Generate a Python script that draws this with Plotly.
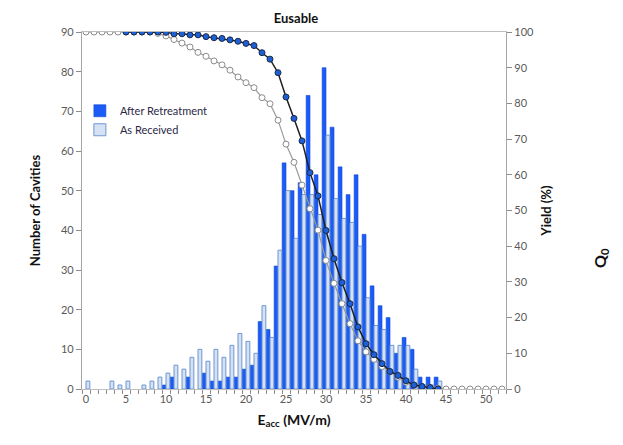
import plotly.graph_objects as go

# ---- data ----
eacc_bins = list(range(53))  # MV/m, 0..52

after_retreatment = [0, 0, 0, 0, 0, 0, 0, 0, 0, 0,
                     1, 3, 0, 3, 0, 4, 2, 2, 3, 3,
                     5, 6, 17, 15, 31, 57, 50, 52, 74, 54,
                     81, 66, 56, 49, 54, 39, 26, 21, 18, 9,
                     13, 10, 3, 3, 3, 0, 0, 0, 0, 0,
                     0, 0, 0]

as_received = [2, 0, 0, 2, 1, 2, 0, 1, 2, 3,
               4, 6, 5, 8, 10, 7, 10, 8, 11, 14,
               12, 9, 21, 13, 35, 50, 38, 49, 49, 44,
               64, 48, 43, 42, 36, 23, 16, 15, 11, 11,
               11, 5, 1, 1, 2, 0, 0, 0, 0, 0,
               0, 0, 0]

yield_as_received_x = list(range(53))
yield_as_received = [100, 100, 100, 100, 100, 100, 100, 100, 100, 99.6,
                     98.9, 97.9, 96.9, 95.8, 94.3, 93.2, 91.9, 90.8, 89.3, 87.4,
                     85.8, 84.4, 81.6, 79.9, 75.3, 68.6, 63.5, 57.1, 50.5, 44.5,
                     36.0, 29.6, 23.9, 18.3, 13.5, 10.4, 8.3, 6.3, 4.8, 3.3,
                     1.9, 1.1, 0.7, 0.5, 0.2, 0, 0, 0, 0, 0,
                     0, 0, 0]

yield_after_x = list(range(5, 45))
yield_after = [100, 100, 100, 100, 100, 99.9, 99.5, 99.5, 99.2, 99.2,
               98.7, 98.4, 98.2, 97.8, 97.4, 96.8, 96.2, 94.2, 92.4, 88.6,
               81.8, 75.8, 69.5, 60.6, 54.1, 44.4, 36.5, 29.8, 23.9, 17.4,
               12.7, 9.6, 7.1, 4.9, 3.8, 2.3, 1.1, 0.7, 0.4, 0.0]

x_tick_vals = [0, 5, 10, 15, 20, 25, 30, 35, 40, 45, 50]
left_tick_vals = [0, 10, 20, 30, 40, 50, 60, 70, 80, 90]
right_tick_vals = [0, 10, 20, 30, 40, 50, 60, 70, 80, 90, 100]

FONT = "Lato, 'Open Sans', sans-serif"
TICK_COLOR = "#595959"

# the page body adds an 8px offset, so the figure is laid out in page px - 8
W, H = 615, 437
L, R, T, B = 74, 498, 24, 381

def nz(vals):
    return [v if v != 0 else None for v in vals]

fig = go.Figure()

fig.add_trace(go.Bar(
    x=eacc_bins, y=nz(after_retreatment), name="After Retreatment",
    marker=dict(color="#1a5cf5", line=dict(color="#1246d8", width=0.6)),
))
fig.add_trace(go.Bar(
    x=eacc_bins, y=nz(as_received), name="As Received",
    marker=dict(color="#d5e2f4", line=dict(color="#6f96d1", width=1)),
))

fig.add_trace(go.Scatter(
    x=yield_as_received_x, y=yield_as_received, yaxis="y2",
    mode="lines+markers", showlegend=False,
    line=dict(color="#9a9a9a", width=1.2),
    marker=dict(symbol="circle", size=6, color="#ffffff",
                line=dict(color="#8c8c8c", width=1)),
))
fig.add_trace(go.Scatter(
    x=yield_after_x, y=yield_after, yaxis="y2",
    mode="lines+markers", showlegend=False,
    line=dict(color="#1f1f1f", width=1.5),
    marker=dict(symbol="circle", size=6, color="#1f5fd6",
                line=dict(color="#1a2a4a", width=1)),
))

fig.update_layout(
    width=W, height=H,
    margin=dict(l=L, r=W - R, t=T, b=H - B, autoexpand=False),
    paper_bgcolor="white", plot_bgcolor="white",
    font=dict(family=FONT, size=11, color=TICK_COLOR),
    barmode="group", bargap=0.04, bargroupgap=0.0,
    title=dict(text="<b>Eusable</b>", x=288 / W, xanchor="center",
               y=1 - 10 / H, yanchor="middle",
               font=dict(family=FONT, size=13, color="#111111")),
    xaxis=dict(
        range=[-0.5, 52.5], tickmode="array", tickvals=x_tick_vals,
        ticks="", showline=True, linecolor="#bfbfbf", linewidth=1,
        mirror=True, showgrid=False, zeroline=False,
        tickfont=dict(size=11, color=TICK_COLOR),
        minor=dict(ticks="outside", tick0=0.5, dtick=1, ticklen=4,
                   tickcolor="#8c8c8c", showgrid=False),
        title=dict(text="<b>E<sub>acc</sub> (MV/m)</b>", standoff=10,
                   font=dict(family=FONT, size=14, color="#111111")),
    ),
    yaxis=dict(
        range=[0, 90], tickmode="array", tickvals=left_tick_vals,
        ticks="outside", ticklen=5, tickcolor="#8c8c8c",
        showline=True, linecolor="#a6a6a6", linewidth=1.2,
        showgrid=False, zeroline=False,
        tickfont=dict(size=11, color=TICK_COLOR),
        title=dict(text="<b>Number of Cavities</b>", standoff=17,
                   font=dict(family=FONT, size=13, color="#111111")),
    ),
    yaxis2=dict(
        range=[0, 100], overlaying="y", side="right",
        tickmode="array", tickvals=right_tick_vals,
        ticks="outside", ticklen=5, tickcolor="#8c8c8c",
        showline=True, linecolor="#a6a6a6", linewidth=1.2,
        showgrid=False, zeroline=False,
        tickfont=dict(size=11, color=TICK_COLOR),
        title=dict(text="<b>Yield (%)</b>", standoff=8,
                   font=dict(family=FONT, size=13, color="#111111")),
    ),
    legend=dict(
        x=-0.005, y=0.82, xanchor="left", yanchor="top",
        bgcolor="rgba(0,0,0,0)", traceorder="normal",
        font=dict(family=FONT, size=11, color="#2b2846"),
        itemwidth=30, tracegroupgap=2,
    ),
    annotations=[dict(
        text="<b>Q<sub>0</sub></b>", xref="paper", yref="paper",
        x=(592 - L) / (R - L), y=(B - 250) / (B - T), showarrow=False,
        textangle=-90, font=dict(family=FONT, size=16, color="#111111"),
        xanchor="center", yanchor="middle",
    )],
)

fig.write_html("out.html")
